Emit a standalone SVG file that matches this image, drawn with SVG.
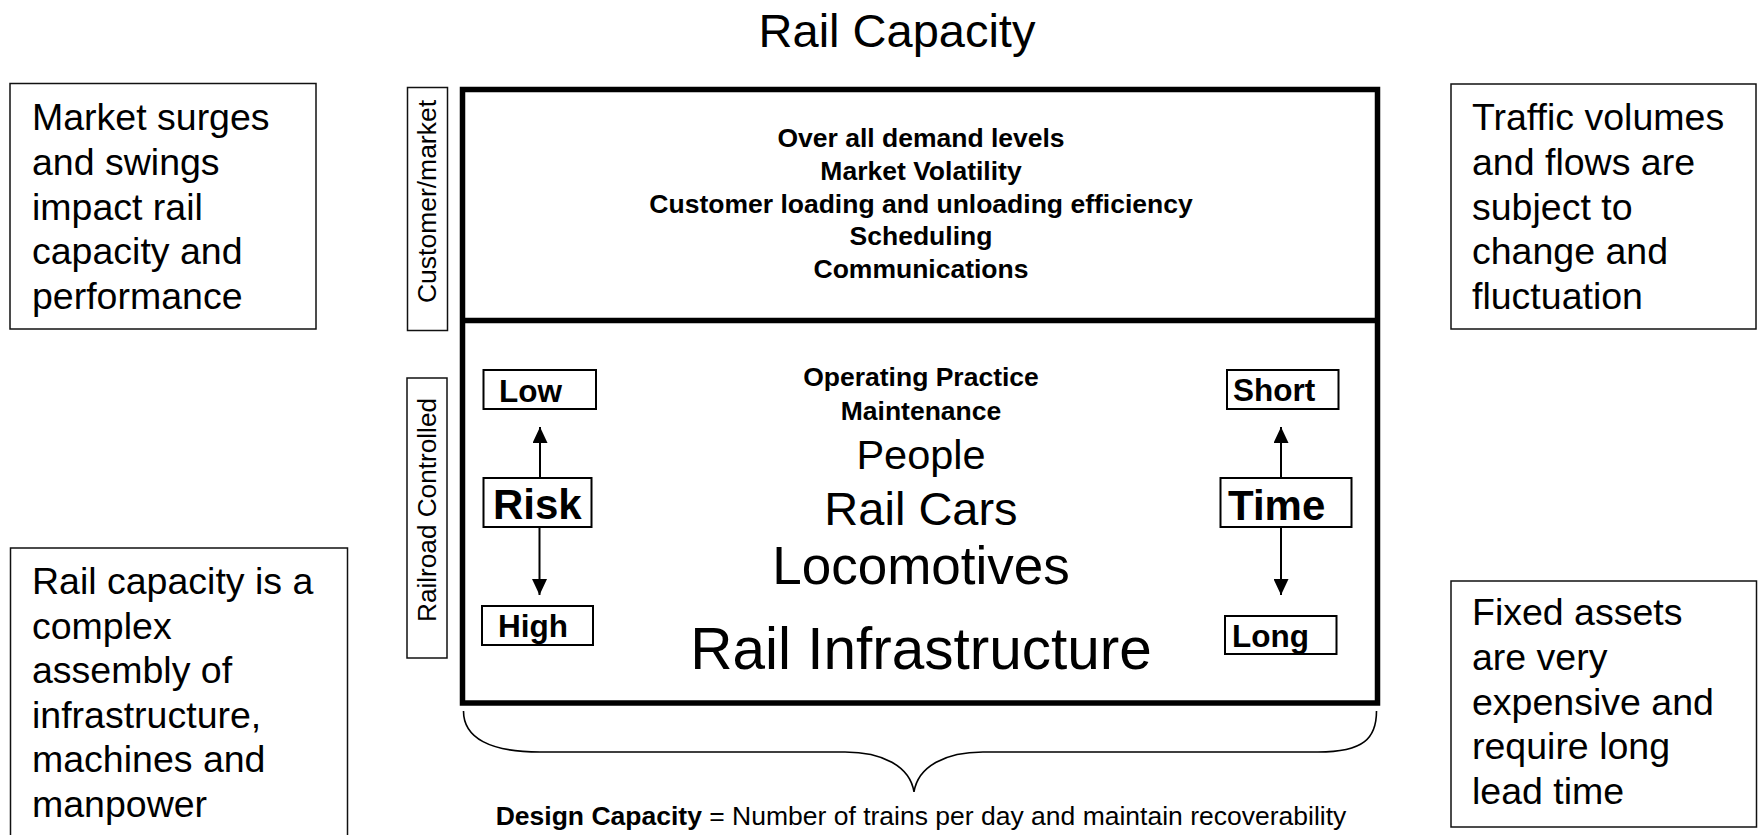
<svg xmlns="http://www.w3.org/2000/svg" width="1761" height="835" viewBox="0 0 1761 835">
  <style>
    text { font-family: "Liberation Sans", Arial, Helvetica, sans-serif; fill: #000; }
    .note-box { fill: #fff; stroke: #111; stroke-width: 1.5; }
    .note { font-size: 37.5px; }
    .side-box { fill: #fff; stroke: #111; stroke-width: 1.5; }
    .side { font-size: 26px; }
    .frame { fill: none; stroke: #000; stroke-width: 5.5; }
    .tag-box { fill: #fff; stroke: #000; stroke-width: 2; }
    .tag { font-size: 31.5px; font-weight: bold; }
    .tag-big { font-size: 42px; font-weight: bold; }
    .bold-line { font-size: 26.5px; font-weight: bold; text-anchor: middle; }
    .asset { text-anchor: middle; }
    .conn { stroke: #000; stroke-width: 2; fill: none; }
    .brace { stroke: #000; stroke-width: 1.6; fill: none; }
  </style>
  <defs>
    <marker id="arrowhead" markerUnits="userSpaceOnUse" markerWidth="16" markerHeight="15" refX="16" refY="7.5" orient="auto">
      <path d="M0,0 L16,7.5 L0,15 z" fill="#000"/>
    </marker>
  </defs>

  <rect width="1761" height="835" fill="#fff"/>

  <!-- heading -->
  <g id="title">
    <text x="897" y="47" font-size="47" text-anchor="middle">Rail Capacity</text>
  </g>

  <!-- side notes -->
  <g id="note-market">
    <rect class="note-box" x="10" y="83.5" width="306" height="245.5"/>
    <text class="note">
      <tspan x="32" y="130">Market surges</tspan>
      <tspan x="32" y="175">and swings</tspan>
      <tspan x="32" y="219.5">impact rail</tspan>
      <tspan x="32" y="264">capacity and</tspan>
      <tspan x="32" y="309">performance</tspan>
    </text>
  </g>

  <g id="note-complexity">
    <rect class="note-box" x="10.5" y="548" width="337" height="300"/>
    <text class="note">
      <tspan x="32" y="594">Rail capacity is a</tspan>
      <tspan x="32" y="639">complex</tspan>
      <tspan x="32" y="683">assembly of</tspan>
      <tspan x="32" y="727.5">infrastructure,</tspan>
      <tspan x="32" y="772">machines and</tspan>
      <tspan x="32" y="817">manpower</tspan>
    </text>
  </g>

  <g id="note-traffic">
    <rect class="note-box" x="1451" y="84" width="305" height="245"/>
    <text class="note">
      <tspan x="1472" y="130">Traffic volumes</tspan>
      <tspan x="1472" y="175">and flows are</tspan>
      <tspan x="1472" y="219.5">subject to</tspan>
      <tspan x="1472" y="264">change and</tspan>
      <tspan x="1472" y="308.5">fluctuation</tspan>
    </text>
  </g>

  <g id="note-assets">
    <rect class="note-box" x="1451" y="581" width="305.5" height="246"/>
    <text class="note">
      <tspan x="1472" y="625">Fixed assets</tspan>
      <tspan x="1472" y="670">are very</tspan>
      <tspan x="1472" y="715">expensive and</tspan>
      <tspan x="1472" y="759">require long</tspan>
      <tspan x="1472" y="803.5">lead time</tspan>
    </text>
  </g>

  <!-- vertical section labels -->
  <g id="label-customer">
    <rect class="side-box" x="407.5" y="87.5" width="40" height="243"/>
    <text class="side" transform="translate(436,201.5) rotate(-90)" text-anchor="middle" textLength="203" lengthAdjust="spacingAndGlyphs">Customer/market</text>
  </g>

  <g id="label-railroad">
    <rect class="side-box" x="407" y="378" width="40" height="280"/>
    <text class="side" transform="translate(436,510) rotate(-90)" text-anchor="middle" textLength="224" lengthAdjust="spacingAndGlyphs">Railroad Controlled</text>
  </g>

  <!-- two-part capacity frame -->
  <g id="capacity-frame">
    <rect class="frame" x="462.5" y="89.5" width="915" height="613.5"/>
    <line class="frame" x1="462.5" y1="320.5" x2="1377.5" y2="320.5"/>
  </g>

  <g id="customer-factors">
    <text class="bold-line" x="921" y="147">Over all demand levels</text>
    <text class="bold-line" x="921" y="180">Market Volatility</text>
    <text class="bold-line" x="921" y="212.5">Customer loading and unloading efficiency</text>
    <text class="bold-line" x="921" y="245">Scheduling</text>
    <text class="bold-line" x="921" y="278">Communications</text>
  </g>

  <g id="railroad-factors">
    <text class="bold-line" x="921" y="386" font-size="25">Operating Practice</text>
    <text class="bold-line" x="921" y="420" font-size="25">Maintenance</text>
    <text class="asset" x="921" y="469" font-size="41.5">People</text>
    <text class="asset" x="921" y="525" font-size="47">Rail Cars</text>
    <text class="asset" x="921" y="584" font-size="53">Locomotives</text>
    <text class="asset" x="921" y="669" font-size="58.5">Rail Infrastructure</text>
  </g>

  <!-- risk scale -->
  <g id="risk-low">
    <rect class="tag-box" x="483.5" y="370" width="112.5" height="39"/>
    <text class="tag" x="499" y="401.5">Low</text>
  </g>
  <g id="risk">
    <rect class="tag-box" x="483.5" y="478" width="108" height="49"/>
    <text class="tag-big" x="493" y="519">Risk</text>
  </g>
  <g id="risk-high">
    <rect class="tag-box" x="482" y="606" width="111" height="39"/>
    <text class="tag" x="498" y="636.5" font-size="31">High</text>
  </g>

  <!-- time scale -->
  <g id="time-short">
    <rect class="tag-box" x="1227" y="370" width="111.5" height="39"/>
    <text class="tag" x="1233" y="401">Short</text>
  </g>
  <g id="time">
    <rect class="tag-box" x="1220.5" y="478" width="131" height="49"/>
    <text class="tag-big" x="1228" y="520">Time</text>
  </g>
  <g id="time-long">
    <rect class="tag-box" x="1225" y="616" width="111.5" height="38"/>
    <text class="tag" x="1232" y="646.5" font-size="31">Long</text>
  </g>

  <g id="connectors">
    <line class="conn" x1="540" y1="478" x2="540" y2="427" marker-end="url(#arrowhead)"/>
    <line class="conn" x1="539.5" y1="527" x2="539.5" y2="595" marker-end="url(#arrowhead)"/>
    <line class="conn" x1="1281" y1="478" x2="1281" y2="427" marker-end="url(#arrowhead)"/>
    <line class="conn" x1="1281" y1="527" x2="1281" y2="595" marker-end="url(#arrowhead)"/>
  </g>

  <!-- brace under the frame -->
  <g id="design-brace">
    <path class="brace" d="M463.5,711 C463.5,738 490,752 540,752 L845,752 C882,752 910,766 914,792 C918,766 946,752 983,752 L1318,752 C1364,752 1376.5,738 1376.5,711"/>
  </g>

  <g id="design-capacity">
    <text x="921" y="825" font-size="26.5" text-anchor="middle"><tspan font-weight="bold">Design Capacity</tspan> = Number of trains per day and maintain recoverability</text>
  </g>
</svg>
